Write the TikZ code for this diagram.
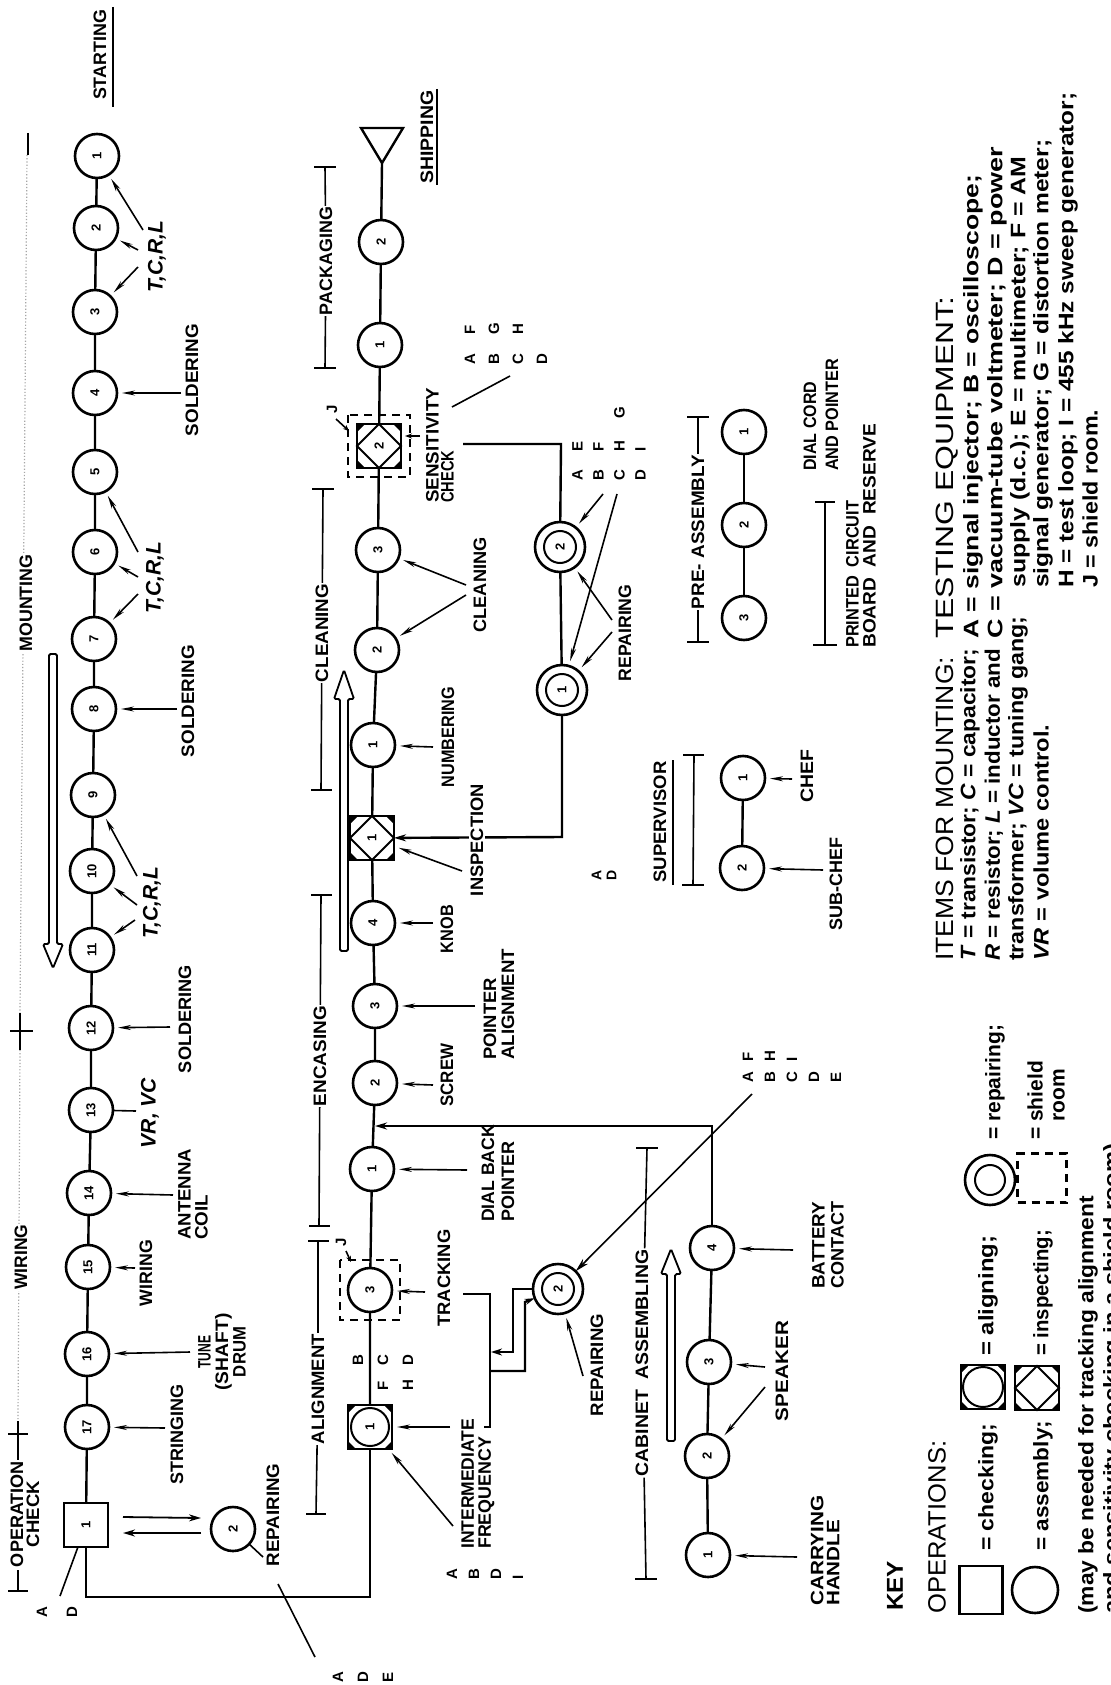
\documentclass[tikz,border=0pt]{standalone}
\usepackage{graphicx}
\usepackage{fontspec}
\setmainfont{Liberation Sans}
\usetikzlibrary{arrows.meta,calc}
\newcommand{\fw}[2]{\resizebox{#1pt}{\height}{#2}}
\newcommand{\R}[1]{\rotatebox{90}{#1}}
\newcommand{\labf}{\bfseries\fontsize{18}{17}\selectfont}
\newcommand{\tcrlf}{\bfseries\itshape\fontsize{21}{21}\selectfont}
\newcommand{\numf}{\bfseries\fontsize{13}{13}\selectfont}
\newcommand{\legb}{\bfseries\fontsize{21}{21}\selectfont}
\newcommand{\leghf}{\fontsize{25}{25}\selectfont}
\newcommand{\lsp}[1]{\bfseries\fontsize{15}{#1}\selectfont}
\newcommand{\crn}[2]{\foreach \sx in {-1,1}{\foreach \sy in {-1,1}{\fill ($(#1)+({\sx*#2},{\sy*#2})$) -- ($(#1)+({\sx*(#2-8)},{\sy*#2})$) -- ($(#1)+({\sx*#2},{\sy*(#2-8)})$) -- cycle;}}}
\begin{document}
\begin{tikzpicture}[x=1pt,y=-1pt,
  ln/.style={line width=2.4pt},
  pl/.style={line width=1.6pt},
  lead/.style={line width=1.6pt,-{Stealth[length=13pt,width=5pt]},shorten >=5pt},
  arw/.style={line width=1.8pt,-{Stealth[length=12pt,width=7pt]}},
  asm/.style={circle,draw,line width=2.6pt,minimum size=44pt,inner sep=0pt,outer sep=0pt,font=\numf},
  sq/.style={rectangle,draw,line width=2.6pt,minimum size=44pt,inner sep=0pt,outer sep=0pt,font=\numf},
  rep/.style={asm,minimum size=50pt},
  shieldbox/.style={dash pattern=on 8pt off 6pt,line width=2.2pt},
  lab/.style={rotate=90,font=\labf,inner sep=1pt},
  labl/.style={lab,align=left,anchor=west},
  letg/.style={rotate=90,anchor=west,align=left,inner sep=0pt},
  leg/.style={rotate=90,anchor=west,inner sep=0pt,font=\legb},
  leghead/.style={leg,font=\leghf},
  hollow/.style={line width=1.8pt,rounded corners=1.5pt},
]
\fill[white] (0,0) rectangle (1110,1685);
\useasboundingbox (0,0) rectangle (1110,1685);

% ---------------- top bracket (mounting / wiring / operation check)
\draw[black!35,dotted,line width=1.2pt] (27,155) -- (20,1013);
\draw[black!35,dotted,line width=1.2pt] (20,1050) -- (18,1421);
\draw[pl] (28,133) -- (28,155);
\draw[pl] (20,1013) -- (20,1050); \draw[pl] (10,1031) -- (33,1031);
\draw[pl] (18,1421) -- (18,1461); \draw[pl] (8,1434) -- (28,1434);
\draw[pl] (18,1570) -- (18,1591); \draw[pl] (8,1591) -- (28,1591);
\node[lab,fill=white] (lMount) at (26,603) {\fw{97}{MOUNTING}};
\node[lab,fill=white] (lWir) at (21,1257) {\fw{65}{WIRING}};
\node[lab,fill=white,align=center,font=\bfseries\fontsize{18}{16}\selectfont] (lOpc) at (25,1514) {\fw{106}{OPERATION}\\\fw{66}{CHECK}};

% ---------------- mounting chain
\node[asm] (M1) at (97,156) {\R{1}};
\node[asm] (M2) at (96,228) {\R{2}};
\node[asm] (M3) at (95,312) {\R{3}};
\node[asm] (M4) at (95,393) {\R{4}};
\node[asm] (M5) at (95,472) {\R{5}};
\node[asm] (M6) at (95,552) {\R{6}};
\node[asm] (M7) at (94,639) {\R{7}};
\node[asm] (M8) at (94,709) {\R{8}};
\node[asm] (M9) at (93,795) {\R{9}};
\node[asm] (M10) at (92,871) {\R{10}};
\node[asm] (M11) at (92,950) {\R{11}};
\node[asm] (M12) at (91,1028) {\R{12}};
\node[asm] (M13) at (91,1110) {\R{13}};
\node[asm] (M14) at (89,1193) {\R{14}};
\node[asm] (M15) at (88,1267) {\R{15}};
\node[asm] (M16) at (87,1354) {\R{16}};
\node[asm] (M17) at (87,1427) {\R{17}};
\node[sq] (OC) at (86,1525) {\R{1}};
\draw[ln] (M1)--(M2)--(M3)--(M4)--(M5)--(M6)--(M7)--(M8)--(M9)--(M10)--(M11)--(M12)--(M13)--(M14)--(M15)--(M16)--(M17)--(OC);

\node[lab] (lStart) at (100,55) {\fw{90}{STARTING}};
\draw[pl] (113,7) -- (113,107);
\draw[hollow] (49,654) -- (49,944) -- (43,944) -- (53,968) -- (63,944) -- (57,944) -- (57,654) -- cycle;

\node[lab,font=\tcrlf] (lT1) at (157,257) {T,C,R,L};
\draw[lead] (143,230) -- (M1); \draw[lead] (138,250) -- (M2); \draw[lead] (138,267) -- (M3);
\node[lab] (lS1) at (192,380) {\fw{112}{SOLDERING}};
\draw[lead] (181,393) -- (M4);
\node[lab,font=\tcrlf] (lT2) at (155,578) {T,C,R,L};
\draw[lead] (138,552) -- (M5); \draw[lead] (138,577) -- (M6); \draw[lead] (138,594) -- (M7);
\node[lab] (lS2) at (188,701) {\fw{112}{SOLDERING}};
\draw[lead] (177,709) -- (M8);
\node[lab,font=\tcrlf] (lT3) at (152,903) {T,C,R,L};
\draw[lead] (137,876) -- (M9); \draw[lead] (137,905) -- (M10); \draw[lead] (135,920) -- (M11);
\node[lab] (lS3) at (185,1019) {\fw{108}{SOLDERING}};
\draw[lead] (170,1027) -- (M12);
\node[lab,font=\tcrlf] (lVR) at (150,1113) {VR, VC};
\draw[pl] (136,1111) -- (M13);
\node[labl,font=\bfseries\fontsize{18}{17}\selectfont] (lAnt) at (193,1241) {\fw{91}{ANTENNA}\\\fw{45}{COIL}};
\draw[lead] (173,1195) -- (M14);
\node[lab] (lWir2) at (146,1273) {\fw{66}{WIRING}};
\draw[lead] (135,1268) -- (M15);
\node[lab,align=center,font=\bfseries\fontsize{18}{17.5}\selectfont] (lTune) at (222,1352) {\fw{33}{TUNE}\\\fw{77}{(SHAFT)}\\\fw{50}{DRUM}};
\draw[lead] (190,1352) -- (M16);
\node[lab] (lStr) at (177,1434) {\fw{100}{STRINGING}};
\draw[lead] (165,1428) -- (M17);

% operation check & repair
\node[asm] (RP) at (233,1529) {\R{2}};
\draw[arw] ($(OC)+(37,-8)$) -- ($(RP)+(-32,-11)$);
\draw[arw] ($(RP)+(-32,4)$) -- ($(OC)+(37,8)$);
\node[lab] (lRepOC) at (273,1515) {\fw{103}{REPAIRING}};
\draw[pl] (RP) -- (263,1557);
\node[letg,font=\lsp{30}] (eqOC) at (57,1618) {A\\D};
\draw[pl] (60,1596) -- (OC);
\node[letg,font=\lsp{25}] (eqADE) at (363,1683) {A\\D\\E};
\draw[pl] (315,1657) -- (278,1584);

% ---------------- second chain (alignment .. shipping)
\coordinate (ship) at (382,163);
\draw[ln] (361,128) -- (403,128) -- (ship) -- cycle;
\node[lab] (lShip) at (427,137) {\fw{93}{SHIPPING}};
\draw[pl] (437,89) -- (437,185);
\node[asm] (P2) at (381,242) {\R{2}};
\node[asm] (P1) at (380,345) {\R{1}};
\node[sq] (SC) at (379,446) {\R{2}};
\draw[line width=2pt] (SC.north) -- (SC.east) -- (SC.south) -- (SC.west) -- cycle;
\crn{SC}{22}
\draw[shieldbox] ($(SC)+(-31,-31)$) rectangle ($(SC)+(31,31)$);
\node[asm] (CL3) at (378,550) {\R{3}};
\node[asm] (CL2) at (377,650) {\R{2}};
\node[asm] (N1) at (373,745) {\R{1}};
\node[sq] (INS) at (372,838) {\R{1}};
\draw[line width=2pt] (INS.north) -- (INS.east) -- (INS.south) -- (INS.west) -- cycle;
\crn{INS}{22}
\node[asm] (E4) at (373,923) {\R{4}};
\node[asm] (E3) at (375,1006) {\R{3}};
\node[asm] (E2) at (375,1083) {\R{2}};
\node[asm] (E1) at (372,1169) {\R{1}};
\node[asm] (A3) at (370,1290) {\R{3}};
\draw[shieldbox] ($(A3)+(-30,-30)$) rectangle ($(A3)+(30,30)$);
\node[sq] (A1) at (370,1427) {\R{1}};
\draw[line width=2pt] (A1) circle (19pt);
\crn{A1}{22}
\draw[ln] (ship)--(P2)--(P1)--(SC)--(CL3)--(CL2)--(N1)--(INS)--(E4)--(E3)--(E2)--(E1)--(A3)--(A1);
\coordinate (b1) at (86,1597);
\coordinate (b2) at (370,1597);
\draw[ln] (OC) -- (b1) -- (b2) -- (A1);

% brackets of second chain
\node[lab] (lPack) at (326,261) {\fw{108}{PACKAGING}};
\draw[pl] (314,167) -- (336,167); \draw[pl] (325,167) -- (lPack) -- (325,368); \draw[pl] (314,368) -- (336,368);
\node[lab] (lClean) at (322,633) {\fw{98}{CLEANING}};
\draw[pl] (312,489) -- (334,489); \draw[pl] (323,489) -- (lClean) -- (321,790); \draw[pl] (311,790) -- (332,790);
\draw[hollow] (340,951) -- (340,699) -- (334,699) -- (344,670) -- (354,699) -- (348,699) -- (348,951) -- cycle;
\node[lab] (lEnc) at (320,1056) {\fw{100}{ENCASING}};
\draw[pl] (311,895) -- (332,895); \draw[pl] (321,895) -- (lEnc) -- (319,1226); \draw[pl] (309,1226) -- (330,1226);
\node[lab] (lAlign) at (318,1389) {\fw{110}{ALIGNMENT}};
\draw[pl] (308,1241) -- (329,1241); \draw[pl] (318,1241) -- (lAlign) -- (316,1514); \draw[pl] (306,1514) -- (326,1514);

% J marks
\node[lab,font=\lsp{15}] (J1) at (332,409) {J};
\draw[pl,-{Stealth[length=6pt,width=5pt]}] (336,419) -- (349,431);
\node[lab,font=\lsp{15}] (J2) at (341,1242) {J};
\draw[pl,-{Stealth[length=6pt,width=5pt]}] (346,1251) -- (351,1262);

% sensitivity check
\node[labl,font=\bfseries\fontsize{18}{15}\selectfont] (lSens) at (440,504) {\fw{115}{SENSITIVITY}\\\fw{52}{CHECK}};
\draw[pl,-{Stealth[length=7pt,width=5pt]}] (420,436) -- (405,436);
\node[letg,font=\lsp{24}] (eqS) at (506,365) {\makebox[30pt][l]{A}F\\\makebox[30pt][l]{B}G\\\makebox[30pt][l]{C}H\\D};
\draw[pl] (510,376) -- (452,407);
\node[rep] (R2c) at (560,547) {\R{2}};
\draw[line width=2pt] (R2c) circle (16pt);
\node[rep] (R1c) at (562,690) {\R{1}};
\draw[line width=2pt] (R1c) circle (16pt);
\draw[ln] (463,444) -- (561,444) -- (R2c);
\draw[ln] (R2c) -- (R1c);
\draw[ln,-{Stealth[length=12pt,width=7pt]}] (R1c) -- (562,837) -- (INS);
\node[letg,font=\lsp{21}] (eqR) at (609,481) {\makebox[29pt][l]{A}E\\\makebox[29pt][l]{B}F\\\makebox[29pt][l]{C}\makebox[33pt][l]{H}G\\\makebox[29pt][l]{D}I};
\draw[lead] (603,494) -- (R2c);
\draw[lead] (617,494) -- (R1c);
\node[lab] (lRepC) at (625,633) {\fw{97}{REPAIRING}};
\draw[lead] (612,620) -- (R2c);
\draw[lead] (612,632) -- (R1c);
\node[lab] (lCl) at (480,585) {\fw{95}{CLEANING}};
\draw[lead] (466,585) -- (CL3);
\draw[lead] (466,595) -- (CL2);
\node[lab] (lNum) at (448,737) {\fw{100}{NUMBERING}};
\draw[lead] (433,747) -- (N1);
\node[lab,fill=white,inner sep=2pt] (lIns) at (477,840) {\fw{112}{INSPECTION}};
\draw[lead] (462,871) -- (INS);
\node[letg,font=\bfseries\fontsize{14}{15}\selectfont] (eqIns) at (604,881) {A\\D};

% encasing labels
\node[lab] (lKnob) at (447,929) {\fw{48}{KNOB}};
\draw[lead] (433,923) -- (E4);
\node[labl,font=\bfseries\fontsize{18}{18}\selectfont] (lPoint) at (499,1061) {\fw{82}{POINTER}\\\fw{111}{ALIGNMENT}};
\draw[lead] (475,1006) -- (E3);
\node[lab] (lScrew) at (447,1075) {\fw{63}{SCREW}};
\draw[lead] (433,1085) -- (E2);
\node[labl,font=\bfseries\fontsize{18}{20}\selectfont] (lDial) at (498,1223) {\fw{97}{DIAL BACK}\\\fw{80}{POINTER}};
\draw[lead] (467,1170) -- (E1);

% alignment labels
\node[lab] (lTrack) at (444,1278) {\fw{97}{TRACKING}};
\draw[lead] (425,1292) -- (A3);
\node[labl,font=\bfseries\fontsize{18}{17}\selectfont] (lIF) at (478,1550) {\fw{130}{INTERMEDIATE}\\\fw{112}{FREQUENCY}};
\draw[lead] (450,1427) -- (A1);
\draw[lead] (453,1526) -- (A1);
\node[letg,font=\lsp{22}] (eqIF) at (485,1580) {A\\B\\D\\I};
\node[letg,font=\lsp{25}] (eqT) at (383,1391) {\makebox[25pt][l]{}B\\\makebox[25pt][l]{F}C\\\makebox[25pt][l]{H}D};
\node[rep] (AR) at (558,1289) {\R{2}};
\draw[line width=2pt] (AR) circle (16pt);
\draw[ln] (463,1294) -- (490,1294) -- (490,1427) -- (484,1427);
\draw[ln,-{Stealth[length=11pt,width=7pt]}] (AR) -- (513,1289) -- (513,1352) -- (491,1352);
\draw[ln,-{Stealth[length=10pt,width=6pt]}] (490,1371) -- (525,1371) -- (525,1302) -- (AR);
\node[lab] (lRepA) at (597,1365) {\fw{102}{REPAIRING}};
\draw[lead] (583,1376) -- (AR);

% cabinet assembling
\node[asm] (CA4) at (712,1248) {\R{4}};
\node[asm] (CA3) at (709,1362) {\R{3}};
\node[asm] (CA2) at (707,1456) {\R{2}};
\node[asm] (CA1) at (708,1555) {\R{1}};
\draw[ln] (CA1)--(CA2)--(CA3)--(CA4);
\coordinate (j1) at (375,1126);
\coordinate (c4t) at (712,1126);
\draw[ln,-{Stealth[length=12pt,width=7pt]}] (CA4) -- (c4t) -- (j1);
\node[letg,font=\lsp{22}] (eqA) at (792,1083) {\makebox[21pt][l]{A}F\\\makebox[21pt][l]{B}H\\\makebox[21pt][l]{C}I\\D\\E};
\draw[pl,-{Stealth[length=14pt,width=7pt]}] (752,1094) -- (AR);
\node[lab] (lCab) at (642,1363) {\fw{227}{CABINET\ \ ASSEMBLING}};
\draw[pl] (636,1148) -- (658,1148); \draw[pl] (647,1148) -- (lCab) -- (646,1579); \draw[pl] (635,1579) -- (657,1579);
\draw[hollow] (667,1441) -- (667,1274) -- (661,1274) -- (671,1249) -- (681,1274) -- (675,1274) -- (675,1441) -- cycle;
\node[lab] (lSpk) at (782,1371) {\fw{100}{SPEAKER}};
\draw[lead] (765,1367) -- (CA3);
\draw[lead] (765,1387) -- (CA2);
\node[labl,font=\bfseries\fontsize{18}{19}\selectfont] (lBat) at (828,1290) {\fw{87}{BATTERY}\\\fw{87}{CONTACT}};
\draw[lead] (793,1250) -- (CA4);
\node[labl,font=\bfseries\fontsize{18}{16}\selectfont] (lCarry) at (825,1607) {\fw{110}{CARRYING}\\\fw{86}{HANDLE}};
\draw[lead] (797,1557) -- (CA1);

% supervisor
\node[asm] (C1) at (743,778) {\R{1}};
\node[asm] (C2) at (742,868) {\R{2}};
\draw[ln] (C1) -- (C2);
\node[lab] (lChef) at (807,776) {\fw{53}{CHEF}};
\draw[lead] (792,779) -- (C1);
\node[lab] (lSub) at (836,884) {\fw{93}{SUB-CHEF}};
\draw[lead] (823,870) -- (C2);
\node[lab] (lSup) at (660,822) {\fw{121}{SUPERVISOR}};
\draw[pl] (673,760) -- (673,885);
\draw[pl] (683,755) -- (704,755); \draw[pl] (694,755) -- (693,885); \draw[pl] (682,885) -- (704,885);

% pre-assembly
\node[asm] (PA1) at (744,432) {\R{1}};
\node[asm] (PA2) at (744,525) {\R{2}};
\node[asm] (PA3) at (744,618) {\R{3}};
\draw[ln] (PA1) -- (PA2) -- (PA3);
\node[lab] (lPre) at (698,532) {\fw{154}{PRE- ASSEMBLY}};
\draw[pl] (687,417) -- (709,417); \draw[pl] (698,417) -- (lPre) -- (698,642); \draw[pl] (687,642) -- (709,642);
\node[labl,font=\bfseries\fontsize{18}{22}\selectfont] (lDialC) at (821,472) {\fw{89}{DIAL CORD}\\\fw{112}{AND POINTER}};
\node[labl,font=\bfseries\fontsize{18}{17}\selectfont] (lPCB) at (861,649) {\fw{147}{PRINTED\ \ CIRCUIT}\\\fw{224}{BOARD\ \ AND\ \ RESERVE}};
\draw[pl] (815,502) -- (835,502); \draw[pl] (825,502) -- (825,645); \draw[pl] (813,645) -- (837,645);

% ---------------- key
\node[leg,font=\bfseries\fontsize{23}{23}\selectfont] (kKey) at (895,1611) {\fw{50}{KEY}};
\node[leghead] (kOps) at (937,1614) {\fw{173}{OPERATIONS:}};
\node[sq,minimum width=43pt,minimum height=48pt] (K1) at (981,1590) {};
\node[leg] (kChk) at (988,1551) {\fw{127}{= checking;}};
\node[sq] (K2) at (983,1387) {};
\draw[line width=2pt] (K2) circle (20pt);
\crn{K2}{22}
\node[leg] (kAli) at (988,1356) {\fw{120}{= aligning;}};
\node[asm,minimum size=46pt] (K3) at (1035,1590) {};
\node[leg] (kAsm) at (1043,1551) {\fw{130}{= assembly;}};
\node[sq] (K4) at (1037,1388) {};
\draw[line width=2pt] (K4.north) -- (K4.east) -- (K4.south) -- (K4.west) -- cycle;
\crn{K4}{22}
\node[leg] (kIns) at (1043,1356) {\fw{126}{= inspecting;}};
\node[rep] (K5) at (990,1180) {};
\draw[line width=2pt] (K5) circle (15pt);
\node[leg] (kRep) at (995,1140) {\fw{115}{= repairing;}};
\node[draw,shieldbox,minimum size=49pt,inner sep=0pt] (K6) at (1042,1178) {};
\node[leg,align=left,font=\bfseries\fontsize{21}{22}\selectfont] (kShi) at (1046,1140) {= shield\\\hphantom{= }room};
\node[leg] (kMay) at (1088,1614) {\fw{418}{(may be needed for tracking alignment}};
\node[leg] (kMay2) at (1113,1614) {\fw{470}{and sensitivity checking in a shield room)}};

\node[leghead] (kItems) at (945,961) {\fw{304}{ITEMS FOR MOUNTING:}};
\node[leg] (kI1) at (970,961) {\fw{312}{\textit{T} = transistor; \textit{C} = capacitor;}};
\node[leg] (kI2) at (994,961) {\fw{312}{\textit{R} = resistor; \textit{L} = inductor and}};
\node[leg] (kI3) at (1018,961) {\fw{344}{transformer; \textit{VC} = tuning gang;}};
\node[leg] (kI4) at (1041,961) {\fw{236}{\textit{VR} = volume control.}};

\node[leghead] (kTest) at (947,639) {\fw{342}{TESTING EQUIPMENT:}};
\node[leg] (kE1) at (973,639) {\fw{464}{A = signal injector; B = oscilloscope;}};
\node[leg] (kE2) at (997,639) {\fw{492}{C = vacuum-tube voltmeter; D = power}};
\node[leg] (kE3) at (1020,588) {\fw{431}{supply (d.c.); E = multimeter; F = AM}};
\node[leg] (kE4) at (1043,588) {\fw{448}{signal generator; G = distortion meter;}};
\node[leg] (kE5) at (1068,588) {\fw{495}{H = test loop; I = 455 kHz sweep generator;}};
\node[leg] (kE6) at (1090,588) {\fw{178}{J = shield room.}};
\end{tikzpicture}
\end{document}
